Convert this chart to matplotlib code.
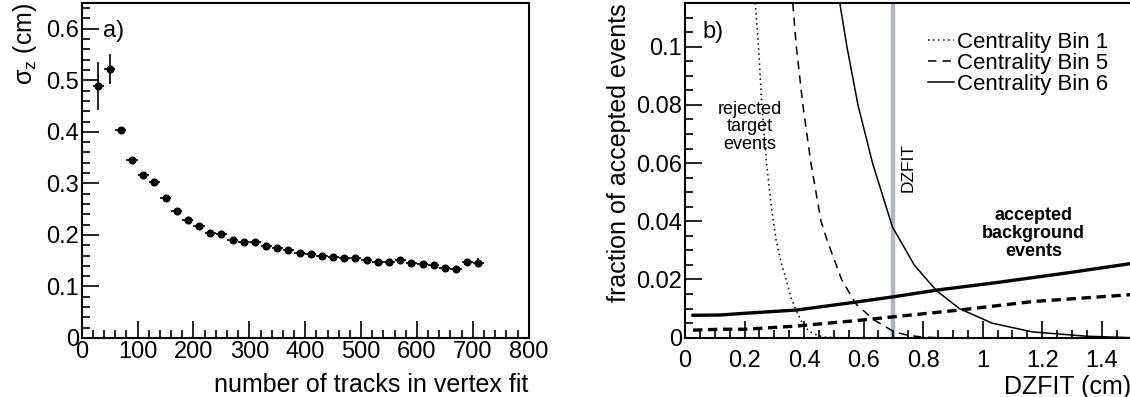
import numpy as np
import matplotlib
matplotlib.use("Agg")
import matplotlib.pyplot as plt
from matplotlib.ticker import MultipleLocator

plt.rcParams['font.family'] = ['Liberation Sans', 'DejaVu Sans']
plt.rcParams['mathtext.fontset'] = 'custom'
plt.rcParams['mathtext.rm'] = 'Liberation Sans'
plt.rcParams['mathtext.it'] = 'Liberation Sans'

# a) vertex resolution vs. track multiplicity
ntracks = [30, 50, 70, 90, 110, 130, 150, 170, 190, 210, 230, 250, 270, 290,
           310, 330, 350, 370, 390, 410, 430, 450, 470, 490, 510, 530, 550,
           570, 590, 610, 630, 650, 670, 690, 710]
sigma_z = [0.489, 0.522, 0.404, 0.346, 0.316, 0.302, 0.271, 0.247, 0.229,
           0.217, 0.203, 0.201, 0.190, 0.187, 0.187, 0.179, 0.174, 0.170,
           0.165, 0.163, 0.160, 0.157, 0.156, 0.155, 0.152, 0.148, 0.147,
           0.152, 0.145, 0.144, 0.141, 0.135, 0.133, 0.148, 0.146]
sigma_err = [0.047, 0.030, 0.006, 0.004, 0.004, 0.004, 0.004, 0.003, 0.003,
             0.003, 0.003, 0.003, 0.003, 0.003, 0.003, 0.003, 0.003, 0.003,
             0.003, 0.003, 0.003, 0.003, 0.003, 0.003, 0.003, 0.003, 0.003,
             0.003, 0.003, 0.003, 0.003, 0.003, 0.004, 0.006, 0.009]
bin_half = 10

# b) rejected target events (steep) and accepted background (rising)
tgt1_x = [0.236, 0.247, 0.258, 0.274, 0.290, 0.306, 0.325, 0.340, 0.355, 0.373, 0.397, 0.420, 0.445, 0.470, 0.52]
tgt1_y = [0.115, 0.100, 0.080, 0.060, 0.045, 0.0336, 0.025, 0.020, 0.014, 0.0095, 0.0044, 0.0020, 0.0008, 0.0002, 0.0]
tgt5_x = [0.362, 0.374, 0.396, 0.423, 0.457, 0.477, 0.526, 0.575, 0.635, 0.703, 0.750, 0.800, 0.85]
tgt5_y = [0.115, 0.100, 0.080, 0.060, 0.040, 0.0336, 0.020, 0.0115, 0.0061, 0.0020, 0.0008, 0.0002, 0.0]
tgt6_x = [0.520, 0.544, 0.581, 0.630, 0.697, 0.722, 0.770, 0.812, 0.847, 0.922, 1.032, 1.166, 1.350, 1.50]
tgt6_y = [0.115, 0.100, 0.080, 0.060, 0.038, 0.0336, 0.025, 0.020, 0.016, 0.010, 0.005, 0.002, 0.0005, 0.0]
bg6_x = [0.027, 0.118, 0.203, 0.374, 0.557, 0.703, 0.849, 1.044, 1.287, 1.50]
bg6_y = [0.0077, 0.0078, 0.0084, 0.0095, 0.0120, 0.0141, 0.0164, 0.0189, 0.0223, 0.0255]
bg5_x = [0.027, 0.118, 0.203, 0.374, 0.557, 0.703, 0.922, 1.166, 1.50]
bg5_y = [0.0026, 0.0029, 0.0029, 0.0040, 0.0057, 0.0072, 0.0095, 0.0124, 0.0148]
dzfit_cut = 0.7

W, H = 1130, 397
fig = plt.figure(figsize=(W / 100, H / 100), dpi=100)

def root_style(ax, right_spine=True, xpad=2):
    ax.tick_params(which='both', direction='in', top=False, right=False,
                   labelsize=17, pad=2, width=1.2)
    ax.tick_params(axis='x', which='both', pad=xpad)
    ax.tick_params(which='major', length=12)
    ax.tick_params(which='minor', length=6)
    for s in ax.spines.values():
        s.set_linewidth(1.5)
    ax.spines['right'].set_visible(right_spine)

# ---- a) ----
ax1 = fig.add_axes([81.7 / W, 1 - 338 / H, 447 / W, 335 / H])
ax1.errorbar(ntracks, sigma_z, yerr=sigma_err, xerr=bin_half, fmt='o',
             color='black', ms=4.8, elinewidth=1.2, capsize=0)
ax1.set_xlim(0, 800)
ax1.set_ylim(0, 0.65)
ax1.xaxis.set_major_locator(MultipleLocator(100))
ax1.xaxis.set_minor_locator(MultipleLocator(20))
ax1.yaxis.set_major_locator(MultipleLocator(0.1))
ax1.yaxis.set_minor_locator(MultipleLocator(0.02))
ax1.set_yticklabels([f"{v:g}" for v in ax1.get_yticks()])
root_style(ax1, xpad=2)
ax1.set_xlabel('number of tracks in vertex fit', fontsize=18, loc='right', labelpad=7)
ax1.set_ylabel(r'$\sigma_z$ (cm)', fontsize=18, loc='top', labelpad=5)
ax1.text(0.047, 0.916, 'a)', transform=ax1.transAxes, fontsize=17, va='center')

# ---- b) ----
ax2 = fig.add_axes([685 / W, 1 - 337.7 / H, 446.5 / W, 334.7 / H])
ax2.plot(tgt1_x, tgt1_y, color='black', lw=1.1, ls=(0, (1, 2.3)), label='Centrality Bin 1')
ax2.plot(tgt5_x, tgt5_y, color='black', lw=1.1, ls=(0, (5.5, 4)), label='Centrality Bin 5')
ax2.plot(tgt6_x, tgt6_y, color='black', lw=1.1, ls='-', label='Centrality Bin 6')
ax2.plot(bg5_x, bg5_y, color='black', lw=2.4, ls=(0, (2.8, 1.7)))
ax2.plot(bg6_x, bg6_y, color='black', lw=2.4, ls='-')
ax2.axvline(dzfit_cut, color='#abb8c3', lw=3.2, zorder=1)
ax2.text(dzfit_cut + 0.05, 0.0585, 'DZFIT', rotation=90, fontsize=12.5,
         ha='center', va='center')
ax2.text(0.217, 0.0725, 'rejected\ntarget\nevents', fontsize=13,
         ha='center', va='center', linespacing=1.05)
ax2.text(1.17, 0.0358, 'accepted\nbackground\nevents', fontsize=13,
         fontweight='bold', ha='center', va='center', linespacing=1.05)
ax2.set_xlim(0, 1.5)
ax2.set_ylim(0, 0.115)
ax2.xaxis.set_minor_locator(MultipleLocator(0.05))
ax2.yaxis.set_minor_locator(MultipleLocator(0.005))
ax2.set_xticks(np.arange(0, 1.41, 0.2))
ax2.set_xticklabels(['0', '0.2', '0.4', '0.6', '0.8', '1', '1.2', '1.4'])
ax2.set_yticks(np.arange(0, 0.101, 0.02))
ax2.set_yticklabels(['0', '0.02', '0.04', '0.06', '0.08', '0.1'])
root_style(ax2, right_spine=False, xpad=9)
ax2.set_xlabel('DZFIT (cm)', fontsize=18, loc='right', labelpad=2)
ax2.set_ylabel('fraction of accepted events', fontsize=18, loc='top', labelpad=4)
ax2.text(0.06, 0.105, 'b)', fontsize=17, va='center')
leg = ax2.legend(loc='upper left', bbox_to_anchor=(928 / W, 1 - 32 / H),
                 bbox_transform=fig.transFigure, frameon=False,
                 fontsize=16, handlelength=1.15, handletextpad=0.15,
                 labelspacing=0.0, borderpad=0, borderaxespad=0)

fig.savefig('out.png', dpi=100)
